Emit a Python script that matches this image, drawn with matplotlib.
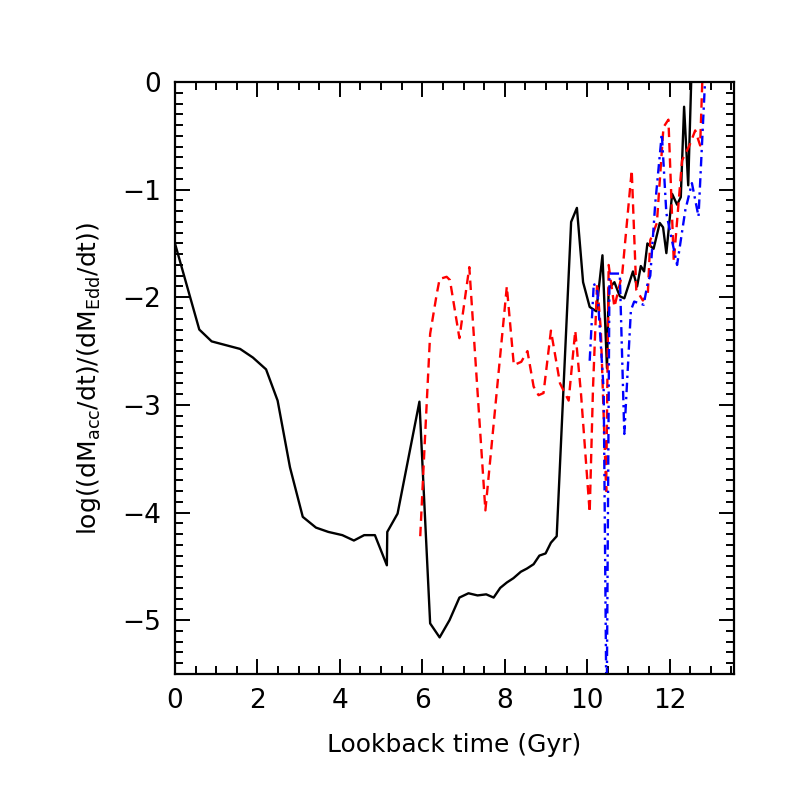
import numpy as np
import matplotlib
matplotlib.use("Agg")
import matplotlib.pyplot as plt
from matplotlib.ticker import MultipleLocator

# ----------------------
# Daten
# ----------------------
t_black = [0.00, 0.59, 0.89, 1.58, 1.89, 2.21, 2.49, 2.79, 3.10, 3.42, 3.72, 4.06,
           4.34, 4.59, 4.85, 5.14, 5.15, 5.40, 5.93, 6.19, 6.42, 6.66, 6.90, 7.12,
           7.34, 7.55, 7.73, 7.89, 8.05, 8.21, 8.39, 8.54, 8.70, 8.84, 8.99, 9.12,
           9.26, 9.61, 9.75, 9.90, 10.06, 10.22, 10.37, 10.48, 10.52, 10.66, 10.79,
           10.90, 11.11, 11.21, 11.30, 11.38, 11.46, 11.61, 11.76, 11.84, 11.92,
           12.06, 12.18, 12.27, 12.35, 12.45, 12.53]
y_black = [-1.50, -2.30, -2.41, -2.48, -2.56, -2.67, -2.96, -3.58, -4.04, -4.14, -4.18, -4.21,
           -4.26, -4.21, -4.21, -4.49, -4.18, -4.01, -2.97, -5.03, -5.16, -5.00, -4.79, -4.75,
           -4.77, -4.76, -4.79, -4.70, -4.65, -4.61, -4.55, -4.52, -4.48, -4.40, -4.38, -4.28,
           -4.22, -1.30, -1.17, -1.86, -2.09, -2.13, -1.61, -2.66, -1.92, -1.86, -1.99,
           -2.01, -1.76, -1.90, -1.71, -1.76, -1.50, -1.55, -1.31, -1.35, -1.59,
           -1.04, -1.14, -1.07, -0.23, -0.96, 0.10]

t_red = [5.95, 6.03, 6.19, 6.35, 6.42, 6.59, 6.67, 6.90, 7.14, 7.53, 8.05, 8.22,
         8.40, 8.55, 8.70, 8.82, 8.94, 9.12, 9.34, 9.55, 9.71, 9.85, 10.06, 10.14,
         10.24, 10.33, 10.46, 10.52, 10.66, 10.85, 11.08, 11.19, 11.35, 11.47, 11.53,
         11.69, 11.85, 11.97, 12.10, 12.30, 12.48, 12.62, 12.74, 12.80]
y_red = [-4.22, -3.58, -2.34, -1.97, -1.83, -1.81, -1.84, -2.38, -1.72, -3.98, -1.90, -2.63,
         -2.60, -2.50, -2.83, -2.91, -2.89, -2.31, -2.80, -2.96, -2.31, -2.90, -4.00, -2.85,
         -1.87, -2.30, -3.80, -1.70, -2.09, -1.78, -0.82, -1.93, -2.03, -1.97, -1.47,
         -1.31, -0.42, -0.35, -1.67, -0.73, -0.59, -0.45, -0.59, 0.10]

t_blue = [10.06, 10.16, 10.25, 10.40, 10.47, 10.54, 10.79, 10.90, 11.06, 11.14, 11.37,
          11.47, 11.53, 11.65, 11.81, 11.92, 12.18, 12.38, 12.54, 12.70, 12.87]
y_blue = [-2.59, -1.87, -1.95, -2.87, -6.00, -1.78, -1.78, -3.27, -2.12, -2.04, -2.07,
          -1.86, -1.80, -1.13, -0.48, -1.22, -1.70, -1.19, -0.94, -1.25, 0.10]

# ----------------------
# Plot
# ----------------------
plt.rcParams['font.family'] = ['DejaVu Sans']
fig = plt.figure(figsize=(7.86, 7.86), dpi=100)
ax = fig.add_axes([0.2226, 0.1425, 0.7112, 0.7532])

ax.plot(t_black, y_black, color='black', lw=1.7)
ax.plot(t_red, y_red, color='red', lw=1.7, linestyle=(0, (4, 2.5)))
ax.plot(t_blue, y_blue, color='blue', lw=1.7, linestyle=(0, (4, 2, 1, 2)))

ax.set_xlim(0, 13.56)
ax.set_ylim(-5.5, 0)

ax.xaxis.set_major_locator(MultipleLocator(2))
ax.xaxis.set_minor_locator(MultipleLocator(0.5))
ax.yaxis.set_major_locator(MultipleLocator(1))
ax.yaxis.set_minor_locator(MultipleLocator(0.1))
ax.tick_params(which='both', direction='in', top=True, right=True, width=1.4,
               labelsize=19, pad=10)
ax.tick_params(which='major', length=11)
ax.tick_params(which='minor', length=5.5)
for s in ax.spines.values():
    s.set_linewidth(1.6)

ax.set_xlabel("Lookback time (Gyr)", fontsize=18, labelpad=14)
ax.set_ylabel(r"log((dM$_{\rm acc}$/dt)/(dM$_{\rm Edd}$/dt))", fontsize=18, labelpad=14)

fig.savefig("out.png", dpi=100)
